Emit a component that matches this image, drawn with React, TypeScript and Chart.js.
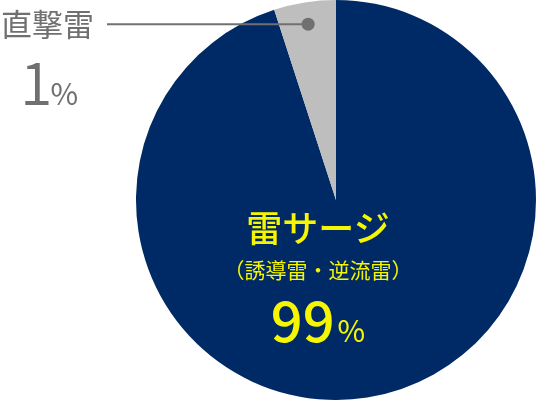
import { useRef, useEffect } from "react"
import { Chart, registerables } from "chart.js"

Chart.register(...registerables)

// slices as drawn (clockwise from 12 o'clock)
const categories = ["雷サージ（誘導雷・逆流雷）", "直撃雷"]
const sliceValues = [95, 5]
const sliceColors = ["#002a66", "#bebebe"]
// percentages printed on the chart
const percentLabels = ["99", "1"]

const JP = '"Noto Sans CJK JP", "Noto Sans", sans-serif'

const leaderPlugin = {
  id: "leader",
  afterDraw(chart: Chart) {
    const arc: any = chart.getDatasetMeta(0).data[1]
    if (!arc) return
    const { x, y, startAngle, endAngle, outerRadius } = arc.getProps(
      ["x", "y", "startAngle", "endAngle", "outerRadius"],
      true
    )
    const mid = (startAngle + endAngle) / 2
    const px = x + Math.cos(mid) * outerRadius * 0.89
    const py = y + Math.sin(mid) * outerRadius * 0.89
    const ctx = chart.ctx
    ctx.save()
    ctx.strokeStyle = "#707070"
    ctx.fillStyle = "#707070"
    ctx.lineWidth = 2
    ctx.beginPath()
    ctx.moveTo(107, py)
    ctx.lineTo(px, py)
    ctx.stroke()
    ctx.beginPath()
    ctx.arc(px, py, 6.5, 0, Math.PI * 2)
    ctx.fill()
    ctx.restore()
  },
}

export default function App() {
  const chartRef = useRef<HTMLCanvasElement>(null)

  useEffect(() => {
    if (!chartRef.current) return
    const myChart = new Chart(chartRef.current, {
      type: "pie",
      data: {
        labels: categories,
        datasets: [
          {
            data: sliceValues,
            backgroundColor: sliceColors,
            borderWidth: 0,
          },
        ],
      },
      options: {
        animation: false,
        responsive: true,
        maintainAspectRatio: false,
        layout: { padding: { left: 136 } },
        plugins: {
          legend: { display: false },
          tooltip: { enabled: false },
        },
      },
      plugins: [leaderPlugin],
    })
    return () => {
      myChart.destroy()
    }
  }, [])

  return (
    <div style={{ position: "fixed", left: 0, top: 0, width: 536, height: 400, background: "#fff", fontFamily: JP }}>
      <canvas ref={chartRef} />
      <div style={{ position: "absolute", left: 1, top: 2, fontSize: 31, lineHeight: "42px", color: "#707070", fontWeight: 400 }}>
        {categories[1]}
      </div>
      <div style={{ position: "absolute", left: 20, top: 50, color: "#707070", whiteSpace: "nowrap", lineHeight: 1 }}>
        <span style={{ fontSize: 59, fontWeight: 350 }}>{percentLabels[1]}</span>
        <span style={{ fontSize: 30, fontWeight: 400, marginLeft: -2 }}>%</span>
      </div>
      <div style={{ position: "absolute", left: 198, top: 200, width: 240, textAlign: "center", color: "#f6f600", lineHeight: 1 }}>
        <div style={{ fontSize: 36, fontWeight: 500, height: 50, paddingTop: 8, boxSizing: "border-box" }}>雷サージ</div>
        <div style={{ fontSize: 21, fontWeight: 400, marginTop: 9 }}>（誘導雷・逆流雷）</div>
        <div style={{ marginTop: 10, whiteSpace: "nowrap" }}>
          <span style={{ fontSize: 56, fontWeight: 500 }}>{percentLabels[0]}</span>
          <span style={{ fontSize: 30, fontWeight: 400, marginLeft: 3 }}>%</span>
        </div>
      </div>
    </div>
  )
}
